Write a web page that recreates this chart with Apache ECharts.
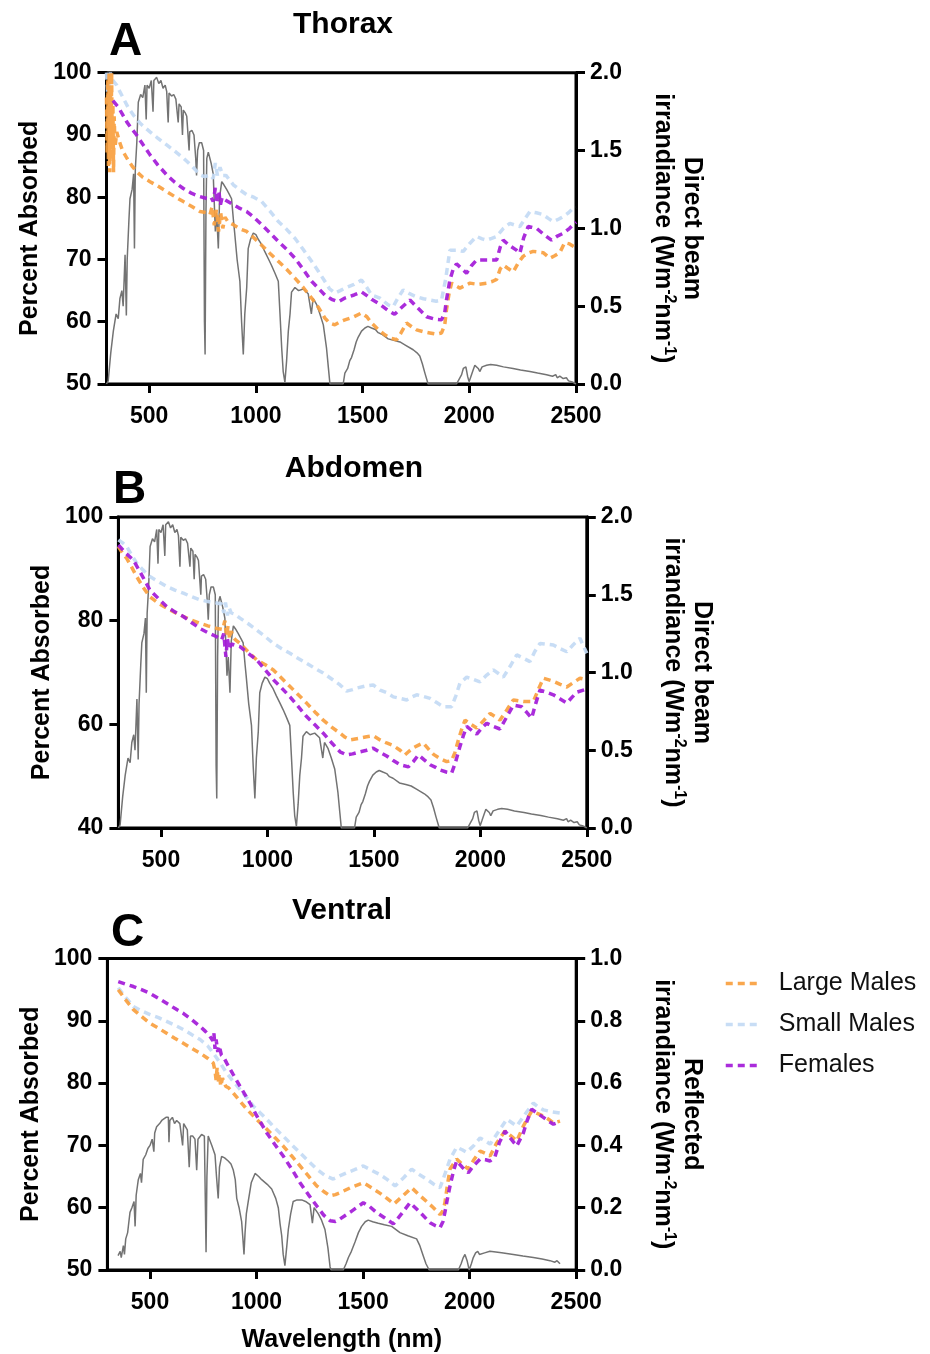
<!DOCTYPE html>
<html><head><meta charset="utf-8">
<script src="https://cdn.jsdelivr.net/npm/echarts@6/dist/echarts.min.js"></script>
<style>html,body{margin:0;padding:0;background:#fff}#c{width:930px;height:1354px}</style>
</head><body><div id="c"></div>
<script>
// ---------- DATA ----------
const xTicks = [500, 1000, 1500, 2000, 2500];
const seriesNames = ['Large Males', 'Small Males', 'Females'];
const panelTitles = ['Thorax', 'Abdomen', 'Ventral'];
const panelLetters = ['A', 'B', 'C'];

// Direct beam irradiance (W m-2 nm-1), panels A and B
const directBeam = [[300,0],[308,0.02],[320,0.2],[332,0.34],[345,0.45],[355,0.42],[363,0.55],[372,0.6],[378,0.5],[387,0.83],[393,0.44],[397,0.8],[405,1.05],[410,1.19],[420,1.25],[427,1.35],[431,0.87],[435,1.38],[442,1.55],[449,1.81],[460,1.86],[470,1.84],[480,1.92],[486,1.7],[490,1.92],[500,1.9],[510,1.95],[518,1.75],[522,1.95],[535,1.97],[545,1.93],[555,1.95],[565,1.9],[575,1.92],[582,1.88],[589,1.68],[593,1.87],[605,1.85],[615,1.86],[625,1.83],[629,1.83],[636,1.68],[640,1.8],[650,1.78],[656,1.6],[660,1.76],[670,1.74],[676,1.72],[687,1.5],[690,1.62],[700,1.63],[710,1.6],[718,1.45],[722,1.34],[727,1.5],[735,1.55],[746,1.55],[755,1.5],[759,0.4],[762,0.19],[766,1.1],[770,1.45],[777,1.49],[790,1.42],[800,1.35],[810,0.98],[816,1.1],[824,0.87],[830,1.2],[840,1.30],[850,1.28],[863,1.25],[875,1.22],[886,1.19],[895,1.05],[900,0.98],[912,0.8],[925,0.66],[933,0.4],[941,0.19],[948,0.45],[957,0.62],[964,0.87],[975,0.93],[988,0.97],[1000,0.96],[1011,0.93],[1025,0.9],[1042,0.85],[1060,0.8],[1074,0.76],[1090,0.71],[1105,0.66],[1113,0.45],[1121,0.23],[1128,0.08],[1136,0.01],[1144,0.15],[1152,0.34],[1160,0.45],[1167,0.59],[1183,0.62],[1200,0.6],[1222,0.61],[1245,0.58],[1260,0.45],[1268,0.55],[1285,0.51],[1300,0.45],[1316,0.38],[1331,0.23],[1340,0.1],[1347,0],[1409,0],[1417,0.07],[1430,0.1],[1440,0.15],[1448,0.17],[1460,0.22],[1470,0.27],[1479,0.30],[1495,0.34],[1511,0.36],[1525,0.37],[1542,0.36],[1560,0.35],[1573,0.33],[1590,0.32],[1620,0.29],[1650,0.28],[1675,0.27],[1700,0.25],[1737,0.22],[1755,0.2],[1768,0.18],[1780,0.13],[1792,0.07],[1807,0],[1940,0],[1952,0.03],[1964,0.06],[1972,0.1],[1984,0.11],[1992,0.05],[1999,0.015],[2008,0.05],[2018,0.09],[2026,0.12],[2034,0.13],[2042,0.1],[2049,0.08],[2060,0.11],[2081,0.12],[2100,0.125],[2128,0.12],[2160,0.11],[2205,0.1],[2240,0.09],[2284,0.08],[2320,0.07],[2362,0.06],[2390,0.05],[2405,0.06],[2412,0.04],[2424,0.05],[2430,0.06],[2440,0.035],[2455,0.04],[2465,0.02],[2479,0.015],[2490,0.008],[2500,0]];

// Reflected irradiance (W m-2 nm-1), panel C
const reflected = [[350,0.046],[360,0.06],[365,0.04],[375,0.078],[380,0.05],[386,0.1],[395,0.12],[400,0.15],[406,0.185],[415,0.2],[425,0.22],[430,0.14],[435,0.24],[445,0.29],[455,0.31],[460,0.28],[468,0.355],[480,0.37],[490,0.39],[500,0.40],[510,0.42],[518,0.38],[522,0.44],[531,0.46],[545,0.47],[555,0.48],[562,0.48],[575,0.49],[586,0.49],[589,0.41],[593,0.48],[605,0.49],[615,0.47],[625,0.48],[640,0.47],[653,0.4],[658,0.47],[664,0.47],[675,0.45],[684,0.33],[690,0.43],[700,0.43],[711,0.42],[719,0.32],[725,0.42],[742,0.435],[755,0.43],[760,0.2],[763,0.057],[767,0.3],[773,0.43],[790,0.4],[805,0.37],[812,0.3],[820,0.23],[826,0.33],[836,0.365],[850,0.36],[867,0.35],[880,0.34],[891,0.32],[900,0.29],[907,0.23],[918,0.2],[930,0.155],[936,0.1],[941,0.05],[946,0.12],[952,0.18],[961,0.22],[975,0.28],[993,0.31],[1010,0.30],[1024,0.29],[1050,0.275],[1071,0.26],[1090,0.23],[1102,0.20],[1110,0.15],[1118,0.11],[1125,0.05],[1133,0.014],[1141,0.07],[1149,0.13],[1160,0.18],[1172,0.22],[1190,0.225],[1212,0.225],[1230,0.22],[1251,0.21],[1262,0.15],[1270,0.2],[1290,0.18],[1305,0.16],[1321,0.13],[1335,0.07],[1345,0.01],[1350,0],[1407,0],[1420,0.02],[1431,0.04],[1445,0.06],[1462,0.09],[1478,0.12],[1493,0.14],[1510,0.155],[1524,0.16],[1545,0.155],[1571,0.15],[1600,0.145],[1634,0.14],[1673,0.12],[1710,0.11],[1751,0.10],[1765,0.08],[1782,0.046],[1795,0.02],[1810,0],[1947,0],[1960,0.02],[1970,0.04],[1978,0.05],[1988,0.03],[1998,0.0],[2008,0.02],[2017,0.04],[2028,0.055],[2038,0.06],[2046,0.05],[2055,0.045],[2070,0.055],[2095,0.06],[2150,0.055],[2205,0.05],[2250,0.045],[2299,0.04],[2340,0.035],[2377,0.03],[2400,0.025],[2410,0.03],[2424,0.02]];

// Percent absorbed - Thorax
const largeA = [[300,96],[303,87],[306,99],[309,85],[312,100],[315,84],[318,97],[321,86],[324,100],[327,88],[330,95],[333,84],[336,93],[340,88],[348,90.5],[360,89],[375,87.5],[395,86.3],[420,85],[441,84.1],[470,83.2],[504,82.5],[540,81.8],[582,80.9],[620,80.1],[660,79.3],[700,78.5],[738,77.7],[770,77.5],[785,77.2],[795,78.5],[805,75.5],[815,78],[825,74.5],[835,77.5],[845,75],[855,76.8],[870,76],[894,75.6],[920,75],[957,74.5],[990,73.5],[1027,72.3],[1065,71],[1105,69.7],[1145,68.4],[1183,67.0],[1222,65.5],[1261,63.8],[1295,62.2],[1323,60.6],[1345,59.8],[1370,59.5],[1395,60],[1417,60.3],[1460,60.8],[1495,61.4],[1520,60.8],[1542,59.8],[1575,58.7],[1604,57.9],[1630,57.4],[1659,57.1],[1680,58.2],[1706,59.8],[1730,59.2],[1753,58.7],[1785,58.4],[1815,58.2],[1845,58],[1870,58.2],[1885,59.5],[1893,61.9],[1905,64.5],[1917,66.2],[1935,65.8],[1956,65.4],[1980,65.8],[2003,66.2],[2040,66],[2081,66.2],[2110,66.5],[2128,66.8],[2145,68.5],[2159,69.1],[2180,68.6],[2206,68.0],[2230,69.5],[2252,70.5],[2275,71],[2299,71.3],[2346,71.1],[2377,70.2],[2400,70.6],[2424,71.1],[2447,72.7],[2470,72.5],[2494,72.0],[2500,71.8]];
const smallA = [[300,100],[305,97],[308,91],[312,99],[318,100],[325,99],[335,98.5],[348,98.0],[362,97],[379,95.9],[400,94.5],[426,93.2],[460,91.8],[504,90.5],[540,89.5],[582,88.4],[620,87.4],[660,86.3],[700,85],[738,83.6],[760,83.3],[785,83.6],[800,83],[810,85.5],[820,83.5],[832,84.8],[845,83.5],[860,83.5],[894,82.0],[920,81.3],[957,80.4],[990,80],[1027,79.3],[1065,77.8],[1105,76.1],[1145,74.8],[1183,73.4],[1222,71.6],[1261,69.7],[1295,68],[1323,66.5],[1345,65.3],[1370,64.6],[1395,65],[1417,65.4],[1460,66],[1495,66.7],[1520,65.5],[1542,64.3],[1581,63.8],[1620,62.7],[1643,62.4],[1665,63.8],[1690,65.1],[1720,64.5],[1753,64.0],[1785,63.7],[1815,63.5],[1845,63.3],[1870,63.5],[1890,67],[1909,71.5],[1940,71.5],[1972,71.3],[2000,72.5],[2034,73.7],[2060,73.3],[2081,73.1],[2105,73.4],[2128,73.7],[2160,75],[2190,75.8],[2215,75.5],[2237,75.3],[2260,76.5],[2284,77.7],[2315,77.5],[2346,77.2],[2370,76.6],[2393,76.1],[2420,76.5],[2440,76.9],[2465,77.5],[2486,78.2],[2500,78.3]];
const femA = [[330,95.5],[355,94.5],[375,93.3],[395,92.1],[418,91],[441,90.0],[470,88.5],[504,86.8],[540,85.2],[582,83.6],[620,82.4],[660,81.4],[700,80.6],[738,80.1],[770,79.8],[790,80],[800,79.3],[810,81.5],[818,79],[826,81],[834,78.8],[842,80],[855,79.6],[894,78.8],[920,78.3],[957,77.7],[990,76.8],[1027,75.6],[1065,74.3],[1105,72.9],[1145,71.6],[1183,70.2],[1222,68.4],[1261,66.5],[1295,65.3],[1323,64.3],[1355,63.6],[1386,63.2],[1417,63.8],[1460,64.3],[1495,64.8],[1520,64.2],[1542,63.6],[1581,62.8],[1620,61.8],[1650,61.2],[1680,62.2],[1722,63.5],[1750,62.5],[1800,60.8],[1840,60.4],[1870,60.3],[1885,61.5],[1893,63.5],[1909,66.7],[1925,68.5],[1940,69.3],[1965,68.5],[1987,67.8],[2010,69],[2034,69.9],[2081,69.9],[2128,69.9],[2145,72],[2159,73.1],[2190,72.2],[2221,71.5],[2237,71.0],[2255,73.5],[2276,75.3],[2315,75.0],[2350,74],[2385,73.1],[2410,73.7],[2440,74.2],[2470,75],[2494,75.8],[2500,76]];

// Percent absorbed - Abdomen
const largeB = [[300,94.3],[320,93],[339,92.0],[360,90.5],[386,88.5],[415,86.5],[448,84.6],[490,83.3],[527,82.4],[565,81.6],[605,80.8],[645,80.1],[683,79.5],[720,79],[762,78.5],[790,78.3],[800,80],[808,77],[815,79],[822,76.5],[830,78],[840,76.8],[850,76.3],[871,75.6],[910,74],[950,72.4],[990,71.5],[1028,70.5],[1067,68.9],[1106,67.3],[1145,65.7],[1184,64.1],[1223,62.4],[1262,60.8],[1300,59.5],[1341,58.3],[1365,57.5],[1388,57.0],[1430,57.3],[1466,57.6],[1497,57.8],[1529,57.0],[1560,56.4],[1591,55.9],[1623,55],[1646,54.1],[1665,54.8],[1686,55.5],[1710,56],[1732,56.4],[1755,55.3],[1780,54.2],[1810,53.4],[1842,52.8],[1865,53],[1880,54.5],[1897,57.0],[1912,59],[1928,60.8],[1955,60],[1983,59.3],[2015,60.7],[2046,62.1],[2070,61.5],[2092,60.8],[2125,62.8],[2155,64.7],[2202,64.4],[2249,64.4],[2272,66.7],[2296,68.9],[2343,68.3],[2375,67.7],[2406,67.2],[2435,68],[2468,68.9],[2500,68.6]];
const smallB = [[300,95.6],[320,95],[339,94.3],[360,92.8],[386,91.1],[415,89.8],[448,88.5],[490,87.5],[527,86.6],[565,85.9],[605,85.3],[645,84.6],[683,84.0],[720,83.7],[762,83.4],[785,83.2],[795,81.5],[803,83.5],[812,81],[820,82.5],[830,81.5],[845,81.3],[871,80.5],[910,79.4],[950,78.2],[990,76.9],[1028,75.6],[1067,74.6],[1106,73.7],[1145,72.7],[1184,71.8],[1223,70.8],[1262,69.9],[1300,68.8],[1341,67.6],[1372,66.4],[1400,66.7],[1420,67],[1460,67.4],[1497,67.6],[1529,66.6],[1560,66.1],[1591,65.3],[1623,65],[1654,64.7],[1680,65.3],[1701,65.7],[1730,65.4],[1764,65],[1795,64.2],[1826,63.4],[1865,63.4],[1885,65.5],[1904,67.9],[1936,69.1],[1965,68.7],[1998,68.2],[2030,69.5],[2061,70.5],[2085,69.8],[2108,69.1],[2140,71.2],[2171,73.4],[2200,72.8],[2233,72.1],[2255,74],[2280,75.6],[2343,75.3],[2375,74.6],[2406,74.0],[2435,75.3],[2468,76.6],[2485,75],[2500,73.7]];
const femB = [[300,94.6],[335,93],[370,91.7],[410,88.8],[448,85.9],[490,84.2],[527,82.7],[565,81.7],[605,80.8],[645,79.6],[683,78.5],[720,77.7],[762,76.9],[785,76.3],[795,77.5],[805,73],[812,76.5],[820,74.5],[830,75.5],[845,75.3],[871,75.0],[910,73.7],[950,72.4],[990,70.5],[1028,68.6],[1067,67],[1106,65.3],[1145,63.4],[1184,61.5],[1223,59.9],[1262,58.3],[1300,56.5],[1341,54.7],[1372,54.1],[1400,54.3],[1435,54.7],[1466,55],[1497,55.4],[1529,54.6],[1560,53.9],[1591,53],[1623,52.2],[1662,51.8],[1685,52.8],[1709,54.1],[1735,53.2],[1764,52.2],[1790,51.7],[1811,51.2],[1840,50.8],[1865,50.6],[1882,52.5],[1904,55.7],[1920,57.8],[1936,59.6],[1960,58.8],[1983,58.1],[2005,59.2],[2030,60.2],[2060,59.6],[2092,59.1],[2125,61.5],[2155,63.7],[2194,63.4],[2218,62.3],[2241,61.2],[2260,64],[2280,66.6],[2310,66.2],[2343,65.7],[2375,64.9],[2406,64.1],[2430,65.2],[2453,66.2],[2500,66.8]];

// Percent absorbed - Ventral
const largeC = [[351,95.0],[380,93.6],[422,91.8],[460,90.7],[500,89.6],[540,88.8],[578,88.0],[616,87.2],[656,86.4],[695,85.6],[735,84.8],[770,84],[797,83.2],[805,82],[810,80.5],[815,82.5],[820,80],[825,81.5],[832,79.5],[840,80.8],[855,79.5],[870,79.2],[891,78.4],[920,77.2],[954,75.8],[1000,74.2],[1048,72.6],[1085,71.3],[1125,69.9],[1165,68.3],[1204,66.7],[1243,65.1],[1282,63.5],[1315,62.6],[1345,61.9],[1370,62.1],[1392,62.4],[1440,63.2],[1501,64.0],[1540,63.2],[1580,62.3],[1612,61.5],[1645,60.6],[1690,62],[1728,63.2],[1765,62],[1798,61],[1830,60],[1861,58.9],[1875,59.5],[1884,60.8],[1895,63.5],[1908,66.2],[1939,67.8],[1965,67],[1994,66.2],[2020,67.7],[2049,69.1],[2075,68.7],[2096,68.3],[2127,70.4],[2166,72.3],[2195,71.5],[2221,70.7],[2252,73.1],[2291,75.5],[2320,75.1],[2346,74.7],[2370,74.2],[2393,73.6],[2424,73.9]];
const smallC = [[351,95.3],[380,94],[422,92.3],[460,91.6],[500,91.0],[540,90.5],[578,89.9],[616,89.3],[656,88.6],[695,87.8],[735,87.0],[770,86],[797,84.8],[830,83.2],[860,81.6],[890,80.3],[922,79.0],[955,77.6],[985,76.3],[1015,75.3],[1048,74.2],[1085,72.8],[1125,71.5],[1165,70.1],[1204,68.8],[1243,67.5],[1282,66.2],[1320,65.2],[1360,64.6],[1390,65.1],[1423,65.6],[1460,66.1],[1501,66.7],[1540,66],[1580,65.3],[1614,64.5],[1650,63.5],[1690,64.8],[1728,66.2],[1765,65.3],[1798,64.6],[1830,63.8],[1861,63.2],[1885,65.5],[1908,67.8],[1939,69.7],[1965,69.3],[1986,68.9],[2020,70],[2049,71.2],[2075,70.7],[2096,70.2],[2135,72.2],[2174,74.2],[2200,73.6],[2221,73.1],[2260,75],[2299,76.8],[2320,76.2],[2346,75.7],[2385,75.4],[2424,75.2]];
const femC = [[351,96.3],[385,95.9],[422,95.5],[460,95],[500,94.4],[540,93.6],[578,92.8],[616,92],[656,91.2],[695,90.2],[735,89.1],[760,88.3],[781,87.5],[795,86.8],[800,88],[805,85.5],[810,87],[818,85],[825,86],[835,84.5],[845,84.2],[860,83.2],[890,81.4],[922,79.5],[945,78.2],[969,76.8],[1000,74.8],[1048,72.0],[1085,70.2],[1125,68.3],[1165,66.2],[1204,64.0],[1243,62.1],[1282,60.3],[1315,58.8],[1345,57.9],[1370,57.8],[1392,58.2],[1440,59.3],[1501,60.8],[1530,60.2],[1564,59.2],[1600,58.4],[1642,57.4],[1680,59],[1720,60.8],[1760,59.5],[1814,57.6],[1840,57.1],[1861,56.8],[1875,57.8],[1884,59.3],[1896,61.5],[1908,63.5],[1925,66],[1939,67.5],[1965,66.5],[1994,65.6],[2020,66.8],[2049,67.8],[2075,67.7],[2096,67.5],[2119,68.2],[2140,70.5],[2166,72.3],[2195,71],[2221,69.9],[2252,72],[2270,74],[2291,75.8],[2320,75.1],[2346,74.5],[2370,73.9],[2393,73.4],[2424,73.8]];

// ---------- CHART ----------
const FONT = 'Liberation Sans, Arial, Helvetica, sans-serif';
const COLORS = { 'Large Males': '#F9A03F', 'Small Males': '#C3DAF4', 'Females': '#A31AD8' };
const GREY = '#737373';

const grids = [
  { left: 106.5, top: 72.7, width: 469.5, height: 311.3 },
  { left: 118.4, top: 517, width: 468.4, height: 311 },
  { left: 107.4, top: 958.5, width: 468.8, height: 312.5 }
];
const leftAxes = [
  { min: 50, max: 100, interval: 10 },
  { min: 40, max: 100, interval: 20 },
  { min: 50, max: 100, interval: 10 }
];
const rightAxes = [
  { min: 0, max: 2, interval: 0.5, name: '{a|Direct beam}\n{a|irrandiance (Wm}{s|-2}{a|nm}{s|-1}{a|)}' },
  { min: 0, max: 2, interval: 0.5, name: '{a|Direct beam}\n{a|irrandiance (Wm}{s|-2}{a|nm}{s|-1}{a|)}' },
  { min: 0, max: 1, interval: 0.2, name: '{a|Reflected}\n{a|irrandiance (Wm}{s|-2}{a|nm}{s|-1}{a|)}' }
];
const spectra = [directBeam, directBeam, reflected];
const panelData = [
  { 'Large Males': largeA, 'Small Males': smallA, 'Females': femA },
  { 'Large Males': largeB, 'Small Males': smallB, 'Females': femB },
  { 'Large Males': largeC, 'Small Males': smallC, 'Females': femC }
];

const axisLineStyle = { lineStyle: { color: '#000', width: 3 } };
const tickStyle = { show: true, length: 9, lineStyle: { color: '#000', width: 3 } };
const labelStyle = { color: '#000', fontSize: 23, fontWeight: 'bold', fontFamily: FONT };

const option = {
  animation: false,
  backgroundColor: '#fff',
  title: [],
  grid: grids.map(g => Object.assign({ show: true, borderColor: '#000', borderWidth: 3, containLabel: false }, g)),
  xAxis: [], yAxis: [], series: [],
  legend: {
    data: seriesNames,
    orient: 'vertical',
    left: 719, top: 966,
    itemWidth: 36, itemHeight: 14, itemGap: 16,
    itemStyle: { opacity: 0, borderWidth: 0 },
    lineStyle: { width: 3.5 },
    textStyle: { fontSize: 25, fontFamily: FONT, color: '#111', padding: [0, 0, 0, 12] }
  }
};

const titleCenters = [[338, 5], [349, 449], [337, 891]];
const letterPos = [[104, 14], [108, 462], [106, 905]];
for (let i = 0; i < 3; i++) {
  option.title.push({ text: panelTitles[i], left: titleCenters[i][0], top: titleCenters[i][1], textAlign: 'center',
    textStyle: { fontSize: 30, fontWeight: 'bold', fontFamily: FONT, color: '#000' } });
  option.title.push({ text: panelLetters[i], left: letterPos[i][0], top: letterPos[i][1],
    textStyle: { fontSize: 46, fontWeight: 'bold', fontFamily: FONT, color: '#000' } });

  option.xAxis.push({
    type: 'value', gridIndex: i, min: 300, max: 2500,
    axisLine: axisLineStyle,
    axisTick: Object.assign({ customValues: xTicks }, tickStyle),
    axisLabel: Object.assign({ customValues: xTicks, margin: 21, formatter: v => String(v) }, labelStyle),
    splitLine: { show: false },
    name: i === 2 ? 'Wavelength (nm)' : '',
    nameLocation: 'middle', nameGap: 58,
    nameTextStyle: { fontSize: 25, fontWeight: 'bold', fontFamily: FONT, color: '#000' }
  });
  option.yAxis.push({
    type: 'value', gridIndex: i, position: 'left',
    min: leftAxes[i].min, max: leftAxes[i].max, interval: leftAxes[i].interval,
    axisLine: Object.assign({ show: true }, axisLineStyle),
    axisTick: tickStyle,
    axisLabel: Object.assign({ margin: 15 }, labelStyle),
    splitLine: { show: false },
    name: 'Percent Absorbed', nameLocation: 'middle', nameGap: 64,
    nameTextStyle: { fontSize: 25, fontWeight: 'bold', fontFamily: FONT, color: '#000' }
  });
  option.yAxis.push({
    type: 'value', gridIndex: i, position: 'right',
    min: rightAxes[i].min, max: rightAxes[i].max, interval: rightAxes[i].interval,
    axisLine: Object.assign({ show: true }, axisLineStyle),
    axisTick: tickStyle,
    axisLabel: Object.assign({ margin: 14, formatter: v => v.toFixed(1) }, labelStyle),
    splitLine: { show: false },
    name: rightAxes[i].name, nameLocation: 'middle', nameGap: 72, nameRotate: -90,
    nameTextStyle: {
      rich: {
        a: { fontSize: 25, fontWeight: 'bold', fontFamily: FONT, color: '#000', lineHeight: 29 },
        s: { fontSize: 16, fontWeight: 'bold', fontFamily: FONT, color: '#000', lineHeight: 29, verticalAlign: 'top' }
      }
    }
  });

  option.series.push({
    type: 'line', name: 'spectrum' + i, xAxisIndex: i, yAxisIndex: 2 * i + 1,
    data: spectra[i], symbol: 'none', clip: true, z: 1,
    lineStyle: { color: GREY, width: 1.5 }, itemStyle: { color: GREY }
  });
  ['Small Males', 'Large Males', 'Females'].forEach((nm, k) => {
    option.series.push({
      type: 'line', name: nm, xAxisIndex: i, yAxisIndex: 2 * i,
      data: panelData[i][nm], symbol: 'none', clip: true, z: 3 + k,
      lineStyle: { color: COLORS[nm], width: 3.5, type: [7, 5], opacity: 0.92 },
      itemStyle: { color: COLORS[nm] }
    });
  });
}

const chart = echarts.init(document.getElementById('c'), null, { renderer: 'canvas' });
chart.setOption(option);
</script></body></html>
